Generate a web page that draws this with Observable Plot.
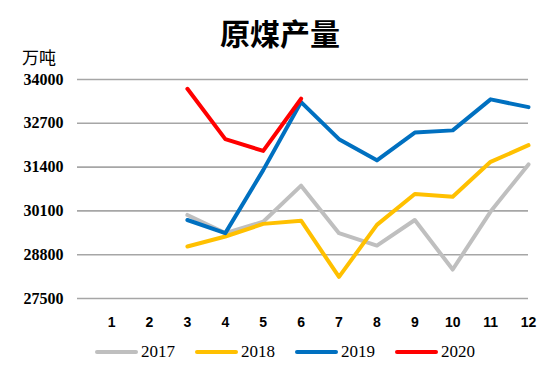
<!DOCTYPE html>
<html><head><meta charset="utf-8">
<script src="https://cdn.jsdelivr.net/npm/d3@7"></script>
<script src="https://cdn.jsdelivr.net/npm/@observablehq/plot@0.6"></script>
<style>
body{margin:0;background:#fff;width:550px;height:376px;overflow:hidden;position:relative;}
#title{position:absolute;left:0;top:10px;width:560px;text-align:center;font:bold 30px "Noto Sans CJK SC";line-height:44px;color:#000;}
#unit{position:absolute;left:22px;top:46px;font:17px "Noto Sans CJK SC";line-height:22px;color:#000;}
#chart{position:absolute;left:0;top:44px;}
#legend{position:absolute;left:95px;top:341px;display:flex;font:17px "Liberation Serif";color:#000;line-height:22px;}
#legend .item{display:flex;align-items:center;width:100px;}
#legend .sw{width:43px;height:4px;border-radius:2px;margin-right:3px;}
</style></head>
<body>
<div id="title">原煤产量</div>
<div id="unit">万吨</div>
<div id="chart"></div>
<div id="legend"></div>
<script>
const months = [1,2,3,4,5,6,7,8,9,10,11,12];
const yTicks = [27500, 28800, 30100, 31400, 32700, 34000];
const years = ["2017","2018","2019","2020"];
const colors = ["#BFBFBF","#FFC000","#0070C0","#FF0000"];
const m2017 = [3,4,5,6,7,8,9,10,11,12];
const v2017 = [29980,29440,29780,30850,29440,29070,29830,28360,30080,31480];
const m2018 = [3,4,5,6,7,8,9,10,11,12];
const v2018 = [29045,29340,29715,29810,28140,29685,30600,30520,31556,32050];
const m2019 = [3,4,5,6,7,8,9,10,11,12];
const v2019 = [29830,29440,31310,33330,32230,31600,32425,32490,33410,33180];
const m2020 = [3,4,5,6];
const v2020 = [33725,32230,31880,33430];

const series = [[m2017,v2017],[m2018,v2018],[m2019,v2019],[m2020,v2020]];
const data = [];
series.forEach(([ms,vs],i)=>ms.forEach((m,j)=>data.push({year:years[i],month:m,value:vs[j]})));

const chart = Plot.plot({
  width:550, height:290,
  marginLeft:77, marginRight:22, marginTop:35, marginBottom:36,
  x:{domain:[0.1,12], label:null},
  y:{domain:[27500,34000], label:null},
  color:{domain:years, range:colors},
  style:{fontSize:"14px", background:"transparent", overflow:"visible"},
  marks:[
    Plot.ruleY(yTicks,{stroke:"#A6A6A6", strokeWidth:1.6}),
    Plot.axisY({ticks:yTicks, tickSize:0, tickPadding:14, tickFormat:d=>String(d), fill:"#000", label:null}),
    Plot.axisX({ticks:months, tickSize:0, tickPadding:19, tickFormat:d=>String(d), fill:"#000", label:null}),
    Plot.line(data,{x:"month", y:"value", z:"year", stroke:"year", strokeWidth:4, strokeLinejoin:"round", strokeLinecap:"round"})
  ]
});
const yStr = yTicks.map(String), mStr = months.map(String);
d3.select(chart).selectAll("text").each(function(){
  const s = this.textContent.trim();
  if (yStr.includes(s)) {
    this.setAttribute("font-family","Liberation Serif");
    this.style.fontFamily = "'Liberation Serif', serif";
    this.style.fontWeight = "bold";
    this.style.fontSize = "16px";
  } else if (mStr.includes(s)) {
    this.style.fontFamily = "'Liberation Sans', sans-serif";
    this.style.fontWeight = "bold";
    this.style.fontSize = "14px";
  }
});
document.getElementById("chart").appendChild(chart);

const lg = document.getElementById("legend");
years.forEach((y,i)=>{
  const it=document.createElement("div");it.className="item";
  const sw=document.createElement("div");sw.className="sw";sw.style.background=colors[i];
  const t=document.createElement("span");t.textContent=y;
  it.appendChild(sw);it.appendChild(t);lg.appendChild(it);
});
</script>
</body></html>
